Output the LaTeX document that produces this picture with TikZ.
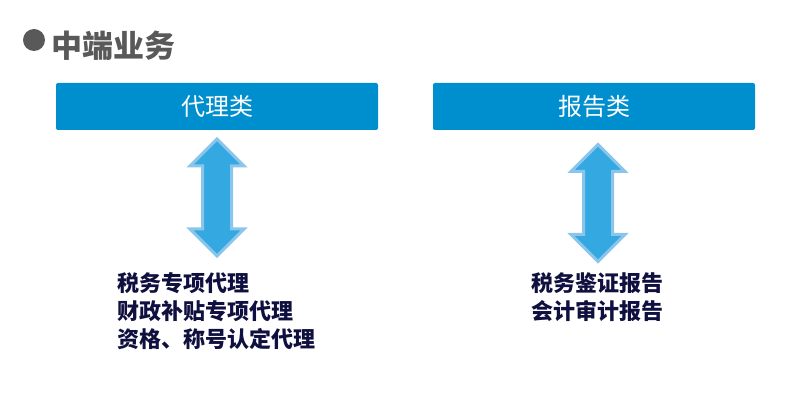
\documentclass[tikz,border=0pt]{standalone}
\usepackage{fontspec}
\usepackage{tikz}
\usetikzlibrary{shapes.arrows}
\newfontfamily\cjk{Noto Sans CJK SC}
\definecolor{box_blue}{RGB}{0, 143, 206}
\definecolor{arr_fill}{RGB}{52, 168, 224}
\definecolor{arr_edge}{RGB}{138, 198, 236}
\definecolor{title_gray}{RGB}{89, 89, 89}
\definecolor{item_navy}{RGB}{16, 16, 64}
\tikzstyle{cat}=[rectangle,rounded corners=2pt,fill=box_blue,draw=none,
  minimum width=322pt,minimum height=47pt,inner sep=0pt,
  text=white,font=\cjk\fontsize{24}{24}\selectfont]
\tikzstyle{dbl}=[double arrow,rotate=90,fill=arr_fill,draw=arr_edge,
  line width=3pt,minimum height=117pt,minimum width=52pt,inner sep=13pt,
  double arrow head extend=12.5pt,double arrow tip angle=90]
\tikzstyle{items}=[align=left,anchor=west,inner sep=0pt,text=item_navy,
  font=\cjk\bfseries\fontsize{22}{28}\selectfont]
\tikzstyle{none}=[]

\begin{document}
\begin{tikzpicture}[x=1pt, y=-1pt]
            \useasboundingbox (0,0) rectangle (787,419);
            \node [circle,fill=title_gray,minimum size=22pt,inner sep=0pt] (dot) at (34,40) {};
            \node [anchor=west,inner sep=0pt,text=title_gray,font=\cjk\bfseries\fontsize{31}{31}\selectfont] (title) at (51,46) {中端业务};
            \node [style=cat] (agent) at (217,106.5) {代理类};
            \node [style=cat] (report) at (594,106.5) {报告类};
            \node [style=dbl] (a1) at (217,197.5) {}; % left
            \node [style=dbl] (a2) at (598,203) {}; % right
            \node [style=items] (agentlist) at (117,311) {税务专项代理\\财政补贴专项代理\\资格、称号认定代理};
            \node [style=items] (reportlist) at (531,297) {税务鉴证报告\\会计审计报告};
    \end{tikzpicture}
\end{document}
